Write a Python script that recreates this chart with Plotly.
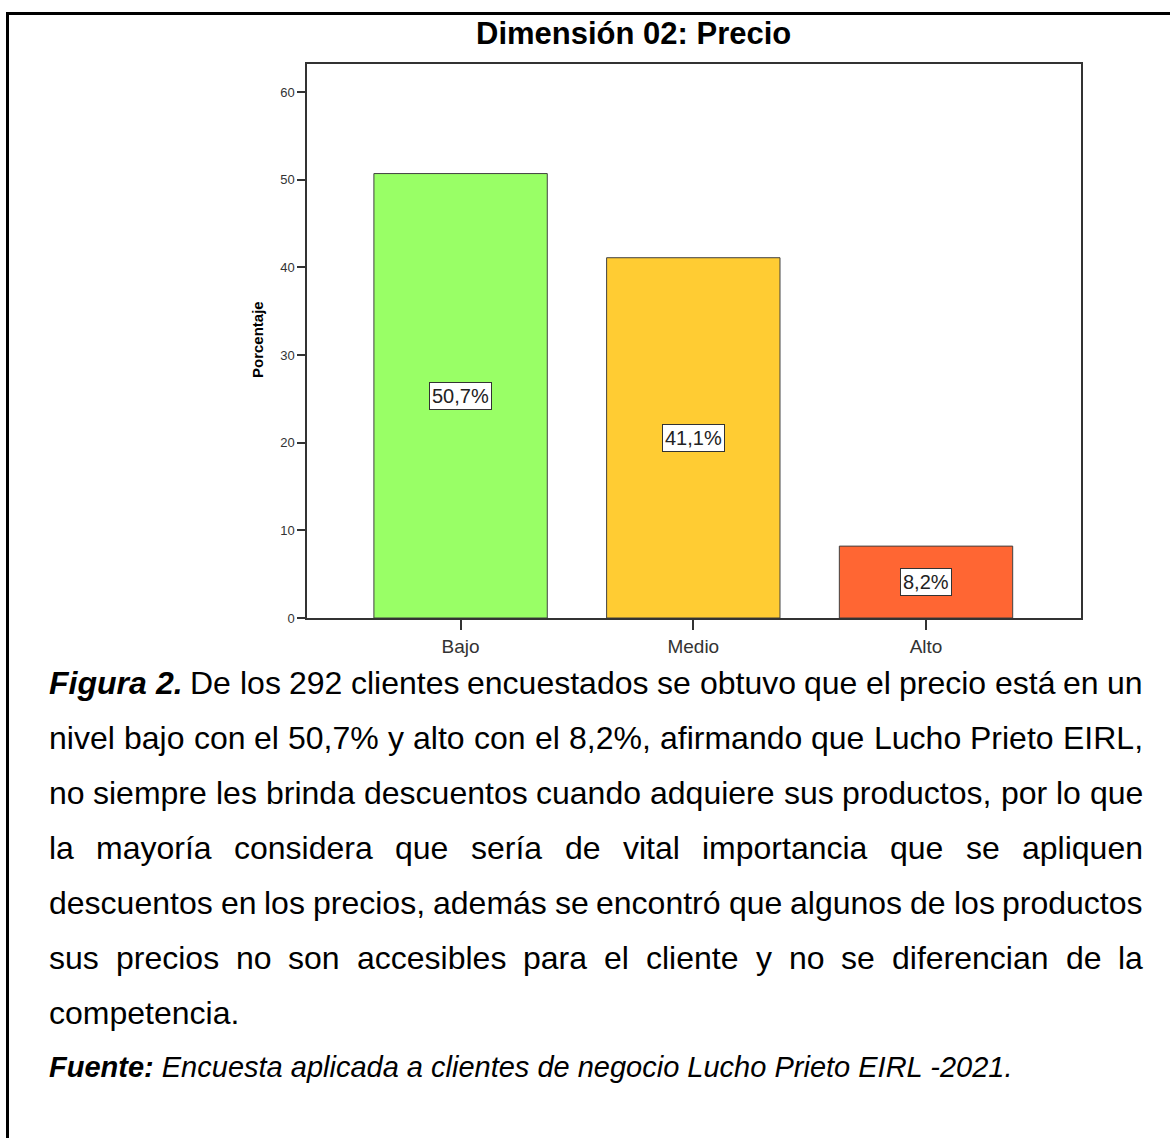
import plotly.graph_objects as go

# ---------------- data ----------------
categories = ["Bajo", "Medio", "Alto"]
values = [50.7, 41.1, 8.2]
value_labels = ["50,7%", "41,1%", "8,2%"]
bar_colors = ["#99FF66", "#FFCC33", "#FF6633"]
y_ticks = [0, 10, 20, 30, 40, 50, 60]

title_text = "Dimensión 02: Precio"
y_title = "Porcentaje"
paragraph_lines = [
    "<bi>Figura <bi>2. De los 292 clientes encuestados se obtuvo que el precio está en un",
    "nivel bajo con el 50,7% y alto con el 8,2%, afirmando que Lucho Prieto EIRL,",
    "no siempre les brinda descuentos cuando adquiere sus productos, por lo que",
    "la mayoría considera que sería de vital importancia que se apliquen",
    "descuentos en los precios, además se encontró que algunos de los productos",
    "sus precios no son accesibles para el cliente y no se diferencian de la",
]
last_line = "competencia."
source_bold = "Fuente:"
source_text = "Encuesta aplicada a clientes de negocio Lucho Prieto EIRL -2021."

# ---------------- geometry ----------------
W, H = 1170, 1138
PL, PR, PT, PB = 307, 1081, 64, 618  # plot area in pixels


def px_x(p):
    return (p - PL) / (PR - PL)


def px_y(p):
    return (PB - p) / (PB - PT)


# Arial / Helvetica widths (1/1000 em)
REG = {' ': 278, 'a': 556, 'b': 556, 'c': 500, 'd': 556, 'e': 556, 'f': 278, 'g': 556,
       'h': 556, 'i': 222, 'j': 222, 'k': 500, 'l': 222, 'm': 833, 'n': 556, 'o': 556,
       'p': 556, 'q': 556, 'r': 333, 's': 500, 't': 278, 'u': 556, 'v': 500, 'w': 722,
       'x': 500, 'y': 500, 'z': 500, 'á': 556, 'é': 556, 'í': 278, 'ó': 556, 'ú': 556,
       'ñ': 556, ',': 278, '.': 278, '%': 889, '-': 333, ':': 278,
       'A': 667, 'B': 667, 'C': 722, 'D': 722, 'E': 667, 'F': 611, 'G': 778, 'H': 722,
       'I': 278, 'J': 500, 'K': 667, 'L': 556, 'M': 833, 'N': 722, 'O': 778, 'P': 667,
       'Q': 778, 'R': 722, 'S': 667, 'T': 611, 'U': 722, 'V': 667, 'W': 944, 'X': 667,
       'Y': 667, 'Z': 611}
for d in "0123456789":
    REG[d] = 556
BOLD = dict(REG)
BOLD.update({'a': 556, 'b': 611, 'c': 556, 'd': 611, 'e': 556, 'f': 333, 'g': 611,
             'h': 611, 'i': 278, 'j': 278, 'k': 556, 'l': 278, 'm': 889, 'n': 611,
             'o': 611, 'p': 611, 'q': 611, 'r': 389, 's': 556, 't': 333, 'u': 611,
             'v': 556, 'w': 778, 'x': 556, 'y': 556, 'z': 500, ':': 333, 'F': 611})


def word_width(w, bold, size):
    table = BOLD if bold else REG
    return sum(table.get(c, 556) for c in w) * size / 1000.0


FS = 32
LINE_Y = [683, 738, 793, 848, 903, 958]
LAST_Y = 1013
SRC_Y = 1067
X0, X1 = 48, 1142
TEXT_FONT = "Liberation Sans, Arial, sans-serif"

fig = go.Figure()
fig.add_trace(go.Bar(
    x=categories, y=values, width=0.745,
    marker=dict(color=bar_colors, line=dict(color="#404040", width=1)),
    hoverinfo="skip", showlegend=False,
))

annotations = []
# value labels in boxes
for c, v, lab in zip(categories, values, value_labels):
    annotations.append(dict(
        x=c, y=v / 2, xref="x", yref="y", text=lab, showarrow=False,
        font=dict(family=TEXT_FONT, size=20, color="#222"),
        bgcolor="white", bordercolor="#333", borderwidth=1, borderpad=2,
    ))

# title
annotations.append(dict(
    x=px_x(633), y=px_y(33), xref="paper", yref="paper", text="<b>" + title_text + "</b>",
    showarrow=False, xanchor="center", yanchor="middle",
    font=dict(family=TEXT_FONT, size=31, color="black"),
))
# y axis title
annotations.append(dict(
    x=px_x(257), y=px_y(340), xref="paper", yref="paper", text="<b>" + y_title + "</b>",
    showarrow=False, textangle=-90, xanchor="center", yanchor="middle",
    font=dict(family=TEXT_FONT, size=15, color="black"),
))

# justified paragraph lines
for line, yy in zip(paragraph_lines, LINE_Y):
    words = []
    for w in line.split(" "):
        if w.startswith("<bi>"):
            words.append((w[4:], True))
        else:
            words.append((w, False))
    widths = [word_width(w, b, FS) for w, b in words]
    gap = (X1 - X0 - sum(widths)) / (len(words) - 1)
    x = X0
    for (w, b), wd in zip(words, widths):
        txt = "<b><i>" + w + "</i></b>" if b else w
        annotations.append(dict(
            x=px_x(x), y=px_y(yy), xref="paper", yref="paper", text=txt,
            showarrow=False, xanchor="left", yanchor="middle", borderpad=0,
            font=dict(family=TEXT_FONT, size=FS, color="black"),
        ))
        x += wd + gap

annotations.append(dict(
    x=px_x(X0), y=px_y(LAST_Y), xref="paper", yref="paper", text=last_line,
    showarrow=False, xanchor="left", yanchor="middle", borderpad=0,
    font=dict(family=TEXT_FONT, size=FS, color="black"),
))
annotations.append(dict(
    x=px_x(X0), y=px_y(SRC_Y), xref="paper", yref="paper",
    text="<b><i>" + source_bold + "</i></b> <i>" + source_text + "</i>",
    showarrow=False, xanchor="left", yanchor="middle", borderpad=0,
    font=dict(family=TEXT_FONT, size=29, color="black"),
))

shapes = [
    dict(type="line", xref="paper", yref="paper", x0=px_x(7), x1=px_x(1172),
         y0=px_y(13.5), y1=px_y(13.5), line=dict(color="black", width=3)),
    dict(type="line", xref="paper", yref="paper", x0=px_x(7.5), x1=px_x(7.5),
         y0=px_y(12), y1=px_y(1140), line=dict(color="black", width=3)),
]

fig.update_layout(
    width=W, height=H,
    margin=dict(l=PL, r=W - PR, t=PT, b=H - PB, pad=0),
    paper_bgcolor="white", plot_bgcolor="white",
    annotations=annotations, shapes=shapes,
    bargap=0.25,
    xaxis=dict(
        range=[-0.66, 2.666], showline=True, mirror=True, linecolor="#333", linewidth=1.5,
        ticks="outside", ticklen=10, tickcolor="#333", tickwidth=1.5,
        showgrid=False, zeroline=False,
        tickfont=dict(family=TEXT_FONT, size=19, color="#333"),
    ),
    yaxis=dict(
        range=[0, 63.2], showline=True, mirror=True, linecolor="#333", linewidth=1.5,
        ticks="outside", ticklen=8, tickcolor="#333", tickwidth=1.5,
        tickvals=y_ticks, showgrid=False, zeroline=False,
        tickfont=dict(family=TEXT_FONT, size=13, color="#333"),
    ),
)

fig.write_html(
    "out.html",
    config={"displayModeBar": False},
    post_script="document.body.style.margin='0';document.body.style.overflow='hidden';",
)
